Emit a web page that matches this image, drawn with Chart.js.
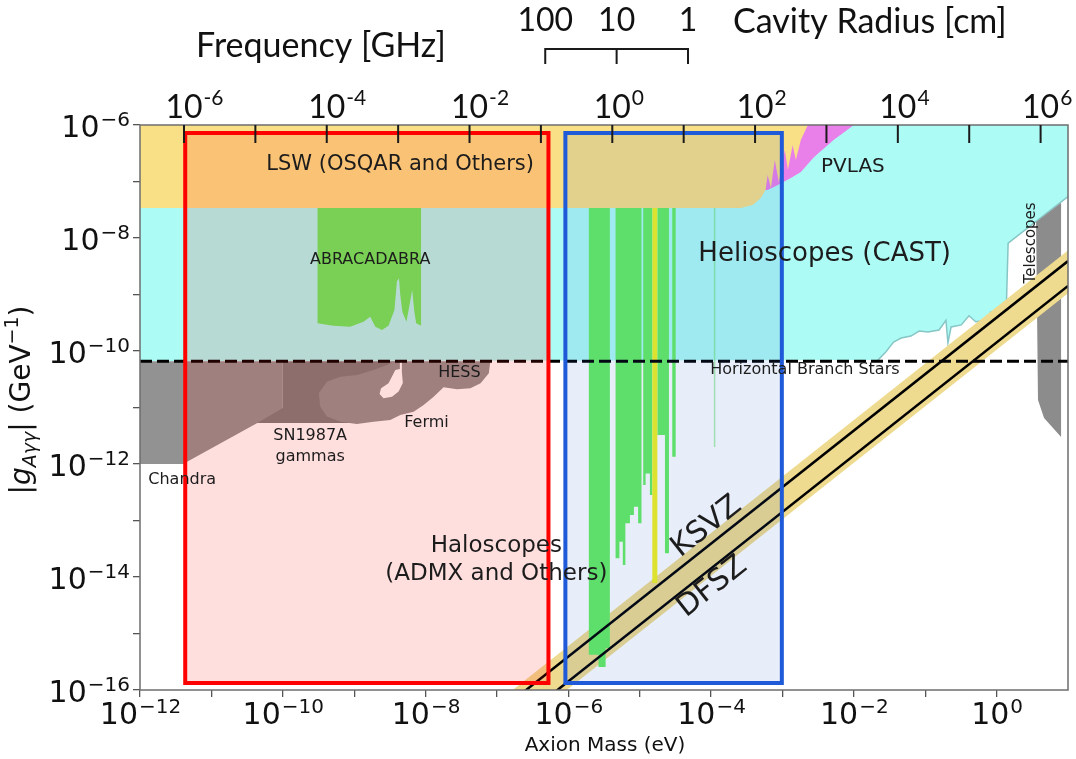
<!DOCTYPE html>
<html>
<head>
<meta charset="utf-8">
<title>Axion-photon coupling limits</title>
<script src="https://cdn.jsdelivr.net/npm/chart.js@4.4.1/dist/chart.umd.min.js"></script>
<style>
  html, body { margin: 0; padding: 0; background: #fff; }
  canvas { display: block; }
</style>
</head>
<body>
<canvas id="axionChart" width="1076" height="759"></canvas>
<script>
// ---------------- axes ----------------
const massMin = 1e-12, massMax = 10;          // eV
const gMin = 1e-16, gMax = 1e-6;              // GeV^-1
const freqMin = 2.42e-7, freqMax = 2.42e6;    // GHz, same span as the mass axis

const massTicks = [1e-12, 1e-11, 1e-10, 1e-9, 1e-8, 1e-7, 1e-6, 1e-5, 1e-4, 1e-3, 1e-2, 1e-1, 1e0];
const massLabelPowers = [-12, -10, -8, -6, -4, -2, 0];
const couplingTicks = [1e-16, 1e-15, 1e-14, 1e-13, 1e-12, 1e-11, 1e-10, 1e-9, 1e-8, 1e-7, 1e-6];
const couplingLabelPowers = [-16, -14, -12, -10, -8, -6];
const freqTicks = [1e-6, 1e-5, 1e-4, 1e-3, 1e-2, 1e-1, 1e0, 1e1, 1e2, 1e3, 1e4, 1e5, 1e6];
const freqLabelPowers = [-6, -4, -2, 0, 2, 4, 6];
const cavityRadii = ['100', '10', '1'];
const cavityFreq = [0.115, 1.15, 11.5];

// ---------------- excluded regions (mass in eV, coupling in GeV^-1) ----------------
const castMass = [1e-12, 10, 10, 1.45, 1.36, 0.98, 0.83, 0.71, 0.51, 0.41, 0.32, 0.23, 0.208, 0.195, 0.156, 0.109, 0.082, 0.063, 0.046, 0.036, 0.028, 0.0217, 1e-12];
const castG = [1e-6, 1e-6, 5.4e-8, 8.1e-9, 4.7e-10, 3.8e-10, 4.9e-10, 3.5e-10, 3.3e-10, 4.2e-10, 2.9e-10, 2.66e-10, 1.39e-10, 3.5e-10, 2.35e-10, 2.17e-10, 2.26e-10, 1.84e-10, 1.70e-10, 1.44e-10, 9.6e-11, 6.9e-11, 6.6e-11];

const lswMass = [1e-12, 2.27e-3, 1.81e-3, 1.54e-3, 1.39e-3, 1.19e-3, 1.08e-3, 8.9e-4, 7.8e-4, 6.9e-4, 6.2e-4, 5.8e-4, 4.97e-4, 3.83e-4, 2.6e-4, 1e-12];
const lswG = [1e-6, 1e-6, 5.4e-7, 2.4e-7, 4.4e-7, 1.6e-7, 3.6e-7, 9.8e-8, 2.4e-7, 7.7e-8, 1.3e-7, 7.1e-8, 5.1e-8, 3.84e-8, 3.4e-8, 3.4e-8];

const pvlasMass = [4.97e-4, 1.0e-2, 5.2e-3, 2.75e-3, 1.81e-3, 1.31e-3, 8.6e-4, 6.2e-4, 4.97e-4];
const pvlasG = [1e-6, 1e-6, 5.4e-7, 2.7e-7, 1.47e-7, 1.15e-7, 8.7e-8, 7.1e-8, 7.1e-8];

const chandraMass = [1e-12, 1.0e-10, 1.0e-10, 4.4e-11, 4.0e-12, 1e-12];
const chandraG = [6.6e-11, 6.6e-11, 5.3e-12, 5.3e-12, 1.0e-12, 1.0e-12];

const snMass = [1.0e-10, 3.77e-9, 3.77e-9, 8.8e-10, 4.4e-11, 1.0e-10];
const snG = [6.6e-11, 6.6e-11, 1.36e-11, 5.3e-12, 5.3e-12, 9.8e-12];

const fermiMass = [3.2e-10, 4.15e-10, 6.4e-10, 1.09e-9, 1.87e-9, 2.88e-9, 3.56e-9, 8.1e-8, 7.7e-8, 5.9e-8, 4.25e-8, 2.77e-8, 1.79e-8, 1.30e-8, 9.4e-9, 6.8e-9, 4.43e-9, 3.2e-9, 1.87e-9, 1.09e-9, 6.4e-10, 4.15e-10, 3.35e-10];
const fermiG = [1.78e-11, 2.86e-11, 3.51e-11, 3.76e-11, 4.61e-11, 5.65e-11, 6.6e-11, 6.6e-11, 4.03e-11, 2.68e-11, 2.19e-11, 2.10e-11, 2.28e-11, 1.55e-11, 1.11e-11, 8.4e-12, 7.4e-12, 6.0e-12, 5.6e-12, 5.1e-12, 5.6e-12, 6.9e-12, 1.03e-11];

const holeMass = [4.37e-9, 4.66e-9, 4.66e-9, 4.81e-9, 4.2e-9, 3.39e-9, 2.58e-9, 2.27e-9, 2.38e-9, 3.03e-9, 3.42e-9, 3.77e-9, 4.37e-9];
const holeG = [6.4e-11, 6.4e-11, 4.25e-11, 2.72e-11, 1.91e-11, 1.55e-11, 1.46e-11, 1.73e-11, 2.19e-11, 2.68e-11, 3.61e-11, 4.61e-11, 4.81e-11];

const teleMass = [3.57, 8.0, 8.0, 4.62, 3.8];
const teleG = [1.92e-8, 4.2e-8, 3.0e-12, 6.5e-12, 1.36e-11];

const abraMass = [3.07e-10, 8.65e-9, 8.65e-9, 7.4e-9, 6.97e-9, 6.5e-9, 5.97e-9, 5.4e-9, 4.73e-9, 4.43e-9, 4.24e-9, 3.97e-9, 3.67e-9, 3.03e-9, 2.45e-9, 1.98e-9, 1.68e-9, 1.35e-9, 8.8e-10, 5.1e-10, 3.07e-10];
const abraG = [1e-7, 1e-7, 2.8e-10, 3.09e-10, 4.96e-10, 1.2e-9, 6.5e-10, 3.3e-10, 4.96e-10, 9.8e-10, 1.94e-9, 1.69e-9, 5.3e-10, 2.8e-10, 2.35e-10, 2.69e-10, 4.05e-10, 3.3e-10, 2.69e-10, 2.8e-10, 3.09e-10];

// cavity haloscopes
const admxMass = [1.94e-6, 3.82e-6, 3.82e-6, 3.33e-6, 3.33e-6, 2.65e-6, 2.65e-6, 1.94e-6];
const admxG = [1e-7, 1e-7, 5.5e-16, 5.5e-16, 2.55e-16, 2.55e-16, 4.2e-16, 4.2e-16];
const haloBMass = [4.59e-6, 1.06e-5, 1.06e-5, 9.5e-6, 9.5e-6, 8.3e-6, 8.3e-6, 7.3e-6, 7.3e-6, 6.3e-6, 6.3e-6, 5.8e-6, 5.8e-6, 5.2e-6, 5.2e-6, 4.59e-6];
const haloBG = [1e-7, 1e-7, 8.9e-14, 8.9e-14, 1.75e-13, 1.75e-13, 1.25e-13, 1.25e-13, 8.9e-14, 8.9e-14, 1.63e-14, 1.63e-14, 4.2e-14, 4.2e-14, 2.14e-14, 2.14e-14];
const haloCMass = [1.12e-5, 1.50e-5, 1.50e-5, 1.39e-5, 1.39e-5, 1.21e-5, 1.21e-5, 1.12e-5];
const haloCG = [1e-7, 1e-7, 2.83e-13, 2.83e-13, 6.8e-13, 6.8e-13, 4.25e-13, 4.25e-13];
const haloDMass = [1.77e-5, 2.57e-5, 2.57e-5, 2.26e-5, 2.26e-5, 1.77e-5];
const haloDG = [1e-7, 1e-7, 2.62e-14, 2.62e-14, 3.26e-12, 3.26e-12];
const haloEMass = [2.86e-5, 3.19e-5, 3.19e-5, 2.86e-5];
const haloEG = [1e-7, 1e-7, 1.35e-12, 1.35e-12];
const faintMass = [1.12e-4, 1.12e-4];
const faintG = [1e-7, 2.0e-12];
const yellowMass = [1.63e-5, 1.63e-5];
const yellowG = [1e-7, 7.8e-15];

// QCD axion models
const ksvzMass = [1e-7, 10];
const ksvzG = [3.9e-17, 3.9e-9];
const dfszMass = [1e-7, 10];
const dfszG = [1.42e-17, 1.42e-9];
const bandMass = [1e-7, 10, 10, 1e-7];
const bandG = [6.0e-17, 6.0e-9, 1.05e-9, 1.05e-17];

// horizontal branch stars bound
const hbMass = [1e-12, 10];
const hbG = [6.6e-11, 6.6e-11];

// highlight boxes
const redBoxMass = [4.3e-12, 5.27e-7, 5.27e-7, 4.3e-12, 4.3e-12];
const blueBoxMass = [9.1e-7, 9.8e-4, 9.8e-4, 9.1e-7, 9.1e-7];
const boxG = [7.2e-7, 7.2e-7, 1.33e-16, 1.33e-16, 7.2e-7];

// text placed inside the plot
const regionNotes = [
  { text: 'LSW (OSQAR and Others)', m: 4.4e-9, g: 1.96e-7, size: 21 },
  { text: 'PVLAS', m: 9.7e-3, g: 1.8e-7, size: 20 },
  { text: 'Helioscopes (CAST)', m: 3.9e-3, g: 5.2e-9, size: 26 },
  { text: 'ABRACADABRA', m: 1.68e-9, g: 4.1e-9, size: 16 },
  { text: 'HESS', m: 2.98e-8, g: 4.1e-11, size: 16 },
  { text: 'Horizontal Branch Stars', m: 2.06e-3, g: 4.6e-11, size: 16 },
  { text: 'Fermi', m: 1.03e-8, g: 5.3e-12, size: 16 },
  { text: 'SN1987A', m: 2.42e-10, g: 3.13e-12, size: 16 },
  { text: 'gammas', m: 2.42e-10, g: 1.33e-12, size: 16 },
  { text: 'Chandra', m: 3.9e-12, g: 5.2e-13, size: 16 },
  { text: 'Haloscopes', m: 9.8e-8, g: 3.5e-14, size: 23 },
  { text: '(ADMX and Others)', m: 9.8e-8, g: 1.13e-14, size: 23 },
  { text: 'Telescopes', m: 3.0, g: 8.2e-9, size: 15, rot: -90 }
];
const modelNotes = [
  { text: 'KSVZ', m: 8.67e-5, g: 7.7e-14, size: 30, xs: ksvzMass, ys: ksvzG },
  { text: 'DFSZ', m: 1.04e-4, g: 6.65e-15, size: 30, xs: dfszMass, ys: dfszG }
];

// ---------------- datasets ----------------
function xy(xs, ys) { return xs.map((x, i) => ({ x: x, y: ys[i] })); }

function area(xs, ys, color, more) {
  return Object.assign({ data: xy(xs, ys), fill: 'shape', backgroundColor: color,
    borderColor: color, borderWidth: 0 }, more || {});
}
function curve(xs, ys, color, width, more) {
  return Object.assign({ data: xy(xs, ys), fill: false, borderColor: color,
    borderWidth: width }, more || {});
}

// listed bottom layer first
const layers = [
  area(castMass, castG, '#adfbf5'),
  curve(castMass.slice(2, -1), castG.slice(2, -1), '#86c6c6', 1.5),
  area(pvlasMass, pvlasG, '#e97fe9'),
  area(chandraMass, chandraG, '#929292'),
  area(snMass, snG, '#7e7e7e'),
  area(fermiMass, fermiG, '#929292'),
  area(holeMass, holeG, '#ffffff'),
  area(teleMass, teleG, '#8c8c8c'),
  area(bandMass, bandG, '#efdb8f'),
  area(abraMass, abraG, '#66ef62'),
  area(admxMass, admxG, '#66ef62'),
  area(haloBMass, haloBG, '#66ef62'),
  area(haloCMass, haloCG, '#66ef62'),
  area(haloDMass, haloDG, '#66ef62'),
  area(haloEMass, haloEG, '#66ef62'),
  curve(faintMass, faintG, 'rgba(110,225,110,0.55)', 1.5),
  curve(yellowMass, yellowG, '#f2f21c', 5),
  area(lswMass, lswG, '#f9df86'),
  curve(ksvzMass, ksvzG, '#000000', 2.5),
  curve(dfszMass, dfszG, '#000000', 2.5),
  curve(hbMass, hbG, '#000000', 3, { borderDash: [12, 5] }),
  area(redBoxMass, boxG, 'rgba(255,0,0,0.13)', { borderColor: '#ff0000', borderWidth: 4, borderCapStyle: 'square' }),
  area(blueBoxMass, boxG, 'rgba(30,90,200,0.10)', { borderColor: '#1f5ad8', borderWidth: 4, borderCapStyle: 'square' })
];
const datasets = layers.map((d, i) => Object.assign(d, {
  order: layers.length - i, pointRadius: 0, pointHoverRadius: 0, tension: 0
}));

// ---------------- drawing helpers ----------------
function power(c, x, y, p, o) {
  c.font = o.base;
  const w1 = c.measureText('10').width;
  const ex = (p < 0 ? o.minus : '') + Math.abs(p);
  c.font = o.exp;
  const w2 = c.measureText(ex).width;
  let x0 = x;
  if (o.align === 'center') x0 = x - (w1 + w2) / 2;
  else if (o.align === 'right') x0 = x - w1 - w2;
  else x0 = x - w1 / 2;
  c.textAlign = 'left';
  c.textBaseline = 'alphabetic';
  c.font = o.base;
  c.fillText('10', x0, y);
  c.font = o.exp;
  c.fillText(ex, x0 + w1 + 1, y - o.raise);
}

function runText(c, parts) {
  let total = 0;
  parts.forEach(p => { c.font = p.f; p.w = c.measureText(p.t).width; total += p.w; });
  let x = -total / 2;
  parts.forEach(p => { c.font = p.f; c.fillText(p.t, x, p.dy || 0); x += p.w; });
}

const overlay = {
  id: 'overlay',
  beforeDraw(chart) {
    const c = chart.ctx;
    c.save();
    c.fillStyle = '#ffffff';
    c.fillRect(0, 0, chart.width, chart.height);
    c.restore();
  },
  afterDatasetsDraw(chart) {
    const c = chart.ctx, sx = chart.scales.x, sy = chart.scales.y;
    c.save();
    c.fillStyle = '#1c1c1c';
    c.textAlign = 'center';
    c.textBaseline = 'middle';
    regionNotes.forEach(n => {
      c.font = n.size + 'px "DejaVu Sans"';
      c.save();
      c.translate(sx.getPixelForValue(n.m), sy.getPixelForValue(n.g));
      c.rotate((n.rot || 0) * Math.PI / 180);
      c.fillText(n.text, 0, 0);
      c.restore();
    });
    modelNotes.forEach(n => {
      const x1 = sx.getPixelForValue(n.xs[0]), y1 = sy.getPixelForValue(n.ys[0]);
      const x2 = sx.getPixelForValue(n.xs[1]), y2 = sy.getPixelForValue(n.ys[1]);
      c.font = n.size + 'px "DejaVu Sans"';
      c.save();
      c.translate(sx.getPixelForValue(n.m), sy.getPixelForValue(n.g));
      c.rotate(Math.atan2(y2 - y1, x2 - x1));
      c.fillText(n.text, 0, 0);
      c.restore();
    });
    c.restore();
  },
  afterDraw(chart) {
    const c = chart.ctx, a = chart.chartArea;
    const sx = chart.scales.x, sy = chart.scales.y, sf = chart.scales.x2;
    c.save();

    // frame
    c.strokeStyle = '#6e6e6e';
    c.lineWidth = 1.5;
    c.strokeRect(a.left, a.top, a.right - a.left, a.bottom - a.top);

    c.fillStyle = '#111';
    // bottom tick labels
    massLabelPowers.forEach(p => {
      power(c, sx.getPixelForValue(Math.pow(10, p)), a.bottom + 34, p,
        { base: '30px "DejaVu Sans"', exp: '20px "DejaVu Sans"', raise: 11, align: 'center', minus: '\u2212' });
    });
    // left tick labels
    couplingLabelPowers.forEach(p => {
      power(c, a.left - 11, sy.getPixelForValue(Math.pow(10, p)) + 12, p,
        { base: '30px "DejaVu Sans"', exp: '20px "DejaVu Sans"', raise: 11, align: 'right', minus: '\u2212' });
    });

    // frequency axis: inward ticks and labels
    c.strokeStyle = '#1a1a1a';
    c.lineWidth = 2;
    freqTicks.forEach(f => {
      const x = sf.getPixelForValue(f);
      c.beginPath();
      c.moveTo(x, a.top);
      c.lineTo(x, a.top + 18);
      c.stroke();
    });
    freqLabelPowers.forEach(p => {
      power(c, sf.getPixelForValue(Math.pow(10, p)), 118, p,
        { base: '32px Lato', exp: '21px Lato', raise: 13, align: 'base', minus: '-' });
    });

    // cavity radius bracket
    const cx = cavityFreq.map(f => sf.getPixelForValue(f));
    c.beginPath();
    c.moveTo(cx[0], 64); c.lineTo(cx[0], 49);
    c.lineTo(cx[cx.length - 1], 49); c.lineTo(cx[cx.length - 1], 64);
    c.moveTo(cx[1], 49); c.lineTo(cx[1], 64);
    c.stroke();
    c.textAlign = 'center';
    c.textBaseline = 'alphabetic';
    c.font = '32px Lato';
    cavityRadii.forEach((r, i) => c.fillText(r, cx[i], 31));

    c.font = '34px Lato';
    c.textAlign = 'left';
    c.fillText('Cavity Radius [cm]', 733, 33);
    c.textAlign = 'center';
    c.fillText('Frequency [GHz]', 321, 57);

    // axis titles
    c.font = '20px "DejaVu Sans"';
    c.textBaseline = 'middle';
    c.fillText('Axion Mass (eV)', (a.left + a.right) / 2 + 1, 746);

    c.save();
    c.translate(30, 400);
    c.rotate(-Math.PI / 2);
    c.textAlign = 'left';
    c.textBaseline = 'alphabetic';
    runText(c, [
      { t: '|', f: '28px "DejaVu Sans"' },
      { t: 'g', f: 'italic 28px "DejaVu Sans"' },
      { t: 'A\u03b3\u03b3', f: 'italic 19px "DejaVu Sans"', dy: 6 },
      { t: '| (GeV', f: '28px "DejaVu Sans"' },
      { t: '\u22121', f: '19px "DejaVu Sans"', dy: -12 },
      { t: ')', f: '28px "DejaVu Sans"' }
    ]);
    c.restore();

    c.restore();
  }
};

// ---------------- chart ----------------
const ctx = document.getElementById('axionChart').getContext('2d');

new Chart(ctx, {
  type: 'line',
  data: { datasets: datasets },
  options: {
    responsive: false,
    animation: false,
    events: [],
    layout: { padding: { left: 133, right: 8, top: 125, bottom: 62 } },
    plugins: { legend: { display: false }, tooltip: { enabled: false } },
    elements: { point: { radius: 0 }, line: { tension: 0, borderJoinStyle: 'miter' } },
    scales: {
      x: {
        type: 'logarithmic', position: 'bottom', min: massMin, max: massMax,
        afterBuildTicks: s => { s.ticks = massTicks.map(v => ({ value: v })); },
        ticks: { display: false },
        grid: { drawOnChartArea: false, drawTicks: true, tickLength: 7, color: '#555', lineWidth: 1.3 },
        border: { display: false }
      },
      y: {
        type: 'logarithmic', position: 'left', min: gMin, max: gMax,
        afterBuildTicks: s => { s.ticks = couplingTicks.map(v => ({ value: v })); },
        ticks: { display: false },
        grid: { drawOnChartArea: false, drawTicks: true, tickLength: 7, color: '#555', lineWidth: 1.3 },
        border: { display: false }
      },
      x2: {
        type: 'logarithmic', position: 'top', axis: 'x', min: freqMin, max: freqMax,
        ticks: { display: false },
        grid: { display: false, drawTicks: false },
        border: { display: false }
      }
    }
  },
  plugins: [overlay]
});
</script>
</body>
</html>
